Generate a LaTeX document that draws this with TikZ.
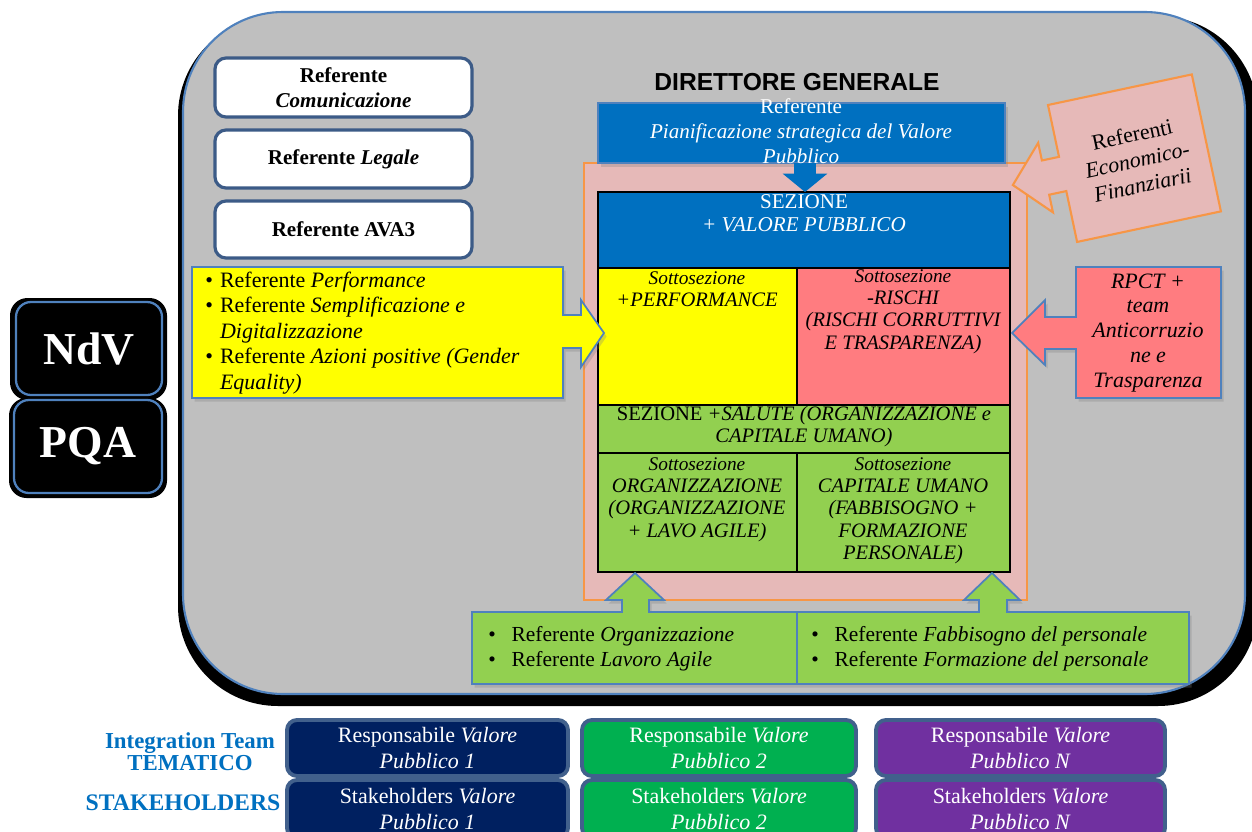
\documentclass[tikz,border=0pt]{standalone}
\usepackage{fontspec}
\setmainfont{Liberation Serif}
\setsansfont{Liberation Sans}
\usetikzlibrary{fit,shadows,arrows.meta}
\newcommand{\myfs}[2]{\fontsize{#1}{#2}\selectfont}
\definecolor{graybg}{HTML}{BFBFBF}
\definecolor{edgeblue}{HTML}{4F81BD}
\definecolor{pinkbg}{HTML}{E6B9B8}
\definecolor{orangeb}{HTML}{F79646}
\definecolor{blueA}{HTML}{0070C0}
\definecolor{yellowc}{HTML}{FFFF00}
\definecolor{redc}{HTML}{FF7C80}
\definecolor{greenc}{HTML}{92D050}
\definecolor{wbord}{HTML}{3C5B87}
\definecolor{navyc}{HTML}{002060}
\definecolor{greenb}{HTML}{00B050}
\definecolor{purplec}{HTML}{7030A0}
\definecolor{botbord}{HTML}{41608C}
\definecolor{labblue}{HTML}{0070C0}
\begin{document}
\begin{tikzpicture}[x=0.02cm,y=-0.02cm,
  box/.style={inner sep=0pt, outer sep=0pt},
  wbox/.style={box, draw=wbord, line width=1.8pt, fill=white, rounded corners=0.22cm},
  wtext/.style={align=center, inner sep=0pt, font=\myfs{12}{14.2}\bfseries},
  cell/.style={box, draw=black, line width=1.2pt},
  celltext/.style={align=center, inner sep=0pt, font=\myfs{11.7}{12.7}\itshape},
  arrowshape/.style={draw=edgeblue, line width=1pt},
  shad/.style={drop shadow={shadow xshift=1.5pt, shadow yshift=-2pt, opacity=0.3}},
  botbox/.style={box, draw=botbord, line width=2.2pt, rounded corners=0.2cm},
  bottext/.style={align=center, inner sep=0pt, text=white, font=\myfs{12.5}{14.8}},
  blackbox/.style={box, fill=black, draw=edgeblue, line width=1.3pt, rounded corners=0.3cm},
  blacktext/.style={inner sep=0pt, text=white, font=\myfs{26}{30}\bfseries},
  lab/.style={text=labblue, align=center, inner sep=0pt},
  bullets/.style={inner sep=0pt, anchor=west, font=\myfs{12.2}{14.6}}
]
\useasboundingbox (0,0) rectangle (1252,832);

% main panel with black shadow
\fill[black, rounded corners=2cm] (178,16) rectangle (1258,706);
\node[box, fill=graybg, draw=edgeblue, line width=1.2pt, rounded corners=2cm, fit={(183,12)(1245,694)}] (panel) {};

% white referent boxes
\node[wbox, fit={(215,58)(472,117)}] (com) {};
\node[wtext] (comt) at (com.center) {Referente\\\textit{Comunicazione}};
\node[wbox, fit={(215,130)(472,188)}] (leg) {};
\node[wtext] (legt) at (leg.center) {Referente \textit{Legale}};
\node[wbox, fit={(215,201)(472,258)}] (ava) {};
\node[wtext] (avat) at (ava.center) {Referente AVA3};

% title
\node[font=\sffamily\myfs{14}{16}\bfseries] (dg) at (797,82) {DIRETTORE GENERALE};

% pink container
\node[box, fill=pinkbg, draw=orangeb, line width=1.3pt, fit={(584,163)(1027,600)}] (pink) {};

% blue top box
\node[box, fill=blueA, draw=edgeblue, line width=0.8pt, shad, fit={(598,103)(1005,163)}] (pian) {};

% sections
\node[cell, fill=blueA, fit={(598,192)(1010,268)}] (sez) {};
\node[cell, fill=yellowc, fit={(598,268)(797,405)}] (perf) {};
\node[cell, fill=redc, fit={(797,268)(1010,405)}] (risk) {};
\node[cell, fill=greenc, fit={(598,405)(1010,453)}] (sal) {};
\node[cell, fill=greenc, fit={(598,453)(797,572)}] (org) {};
\node[cell, fill=greenc, fit={(797,453)(1010,572)}] (cap) {};

% blue down arrow
\draw[blueA, line width=12.5pt, -{Triangle[length=10.5pt, width=25pt]}] ([xshift=0.07cm]pian.south) -- ([xshift=0.02cm]sez.north);

\node[text=white, align=center, font=\myfs{12}{14.2}] (piant) at (801,131) {Referente\\\textit{Pianificazione strategica del Valore}\\\textit{Pubblico}};

\node[celltext, text=white, font=\myfs{12}{13}] (sezt) at (804,213.5) {SEZIONE\\\textit{+ VALORE PUBBLICO}};
\node[celltext] (perft) at (697,289) {{\myfs{11}{12.7}Sottosezione}\\+PERFORMANCE};
\node[celltext] (riskt) at (903,311.5) {{\myfs{11}{12.7}Sottosezione}\\-RISCHI\\(RISCHI CORRUTTIVI\\E TRASPARENZA)};
\node[celltext] (salt) at (804,426.5) {\upshape SEZIONE \itshape +SALUTE (ORGANIZZAZIONE e\\CAPITALE UMANO)};
\node[celltext] (orgt) at (697,499.5) {{\myfs{11}{12.7}Sottosezione}\\ORGANIZZAZIONE\\(ORGANIZZAZIONE\\+ LAVO AGILE)};
\node[celltext] (capt) at (903,510.5) {{\myfs{11}{12.7}Sottosezione}\\CAPITALE UMANO\\(FABBISOGNO +\\FORMAZIONE\\PERSONALE)};

% yellow callout
\node[box, fit={(192,267)(563,398)}] (yb) {};
\path[arrowshape, fill=yellowc, shad] (yb.north west) -- (yb.north east) -- (563,315) -- (581,315) -- (581,300) -- (604,333) -- (581,367) -- (581,348) -- (563,348) -- (yb.south east) -- (yb.south west) -- cycle;
\node[bullets, font=\myfs{12.5}{14.5}] (ybt) at (205,333) {\begin{tabular}{@{}l@{\hspace{4pt}}l@{}}
\textbullet & Referente \textit{Performance}\\
\textbullet & Referente \textit{Semplificazione e}\\
 & \textit{Digitalizzazione}\\
\textbullet & Referente \textit{Azioni positive (Gender}\\
 & \textit{Equality)}
\end{tabular}};

% RPCT callout
\node[box, fit={(1076,267)(1221,398)}] (rp) {};
\path[arrowshape, fill=redc, shad] (rp.north west) -- (rp.north east) -- (rp.south east) -- (rp.south west) -- (1076,349) -- (1045,349) -- (1045,365) -- (1012,333) -- (1045,300) -- (1045,317) -- (1076,317) -- cycle;
\node[align=center, font=\myfs{12.5}{14.2}\itshape] (rpt) at (1148,333) {RPCT +\\team\\Anticorruzio\\ne e\\Trasparenza};

% Referenti Economico-Finanziarii callout (rotated)
\begin{scope}[shift={(1048,105)}, rotate=12]
\path[draw=orangeb, line width=1.2pt, fill=pinkbg] (0,0) -- (147,0) -- (147,140) -- (0,140) -- (0,88) -- (-17.5,88) -- (-17.5,106) -- (-51,71) -- (-17.5,35) -- (-17.5,53) -- (0,53) -- cycle;
\node[rotate=12, align=center, inner sep=0pt, font=\myfs{12.5}{14.6}] (reft) at (76,72) {Referenti\\\textit{Economico-}\\\textit{Finanziarii}};
\end{scope}

% green bottom callouts
\node[box, fit={(472,612)(797,684)}] (gl) {};
\node[box, fit={(797,612)(1189,684)}] (gr) {};
\path[arrowshape, fill=greenc, shad] (gl.south west) -- (gl.north west) -- (622,612) -- (622,600) -- (606,600) -- (635,573) -- (664,600) -- (649,600) -- (649,612) -- (979,612) -- (979,600) -- (964,600) -- (992,573) -- (1020,600) -- (1007,600) -- (1007,612) -- (gr.north east) -- (gr.south east) -- cycle;
\draw[edgeblue, line width=1pt] (gl.north east) -- (gl.south east);
\node[bullets] (glt) at (488,649) {\begin{tabular}{@{}l@{\hspace{9pt}}l@{}}
\textbullet & Referente \textit{Organizzazione}\\
\textbullet & Referente \textit{Lavoro Agile}
\end{tabular}};
\node[bullets] (grt) at (811,649) {\begin{tabular}{@{}l@{\hspace{9pt}}l@{}}
\textbullet & Referente \textit{Fabbisogno del personale}\\
\textbullet & Referente \textit{Formazione del personale}
\end{tabular}};

% NdV / PQA
\fill[black, rounded corners=0.35cm] (10,298) rectangle (167,400);
\fill[black, rounded corners=0.35cm] (9,398) rectangle (167,498);
\node[blackbox, fit={(16,302)(162,395)}] (ndv) {};
\node[blacktext] (ndvt) at (ndv.center) {NdV};
\node[blackbox, fit={(14,400)(162,493)}] (pqa) {};
\node[blacktext] (pqat) at (pqa.center) {PQA};

% bottom labels
\node[lab, font=\myfs{13}{11.4}\bfseries] (itl) at (190,752) {Integration Team\\TEMATICO};
\node[lab, font=\myfs{13.5}{14}\bfseries] (stl) at (183,803) {STAKEHOLDERS};

% bottom boxes
\node[botbox, fill=navyc, fit={(287,720)(568,776)}] (r1) {};
\node[bottext] (r1t) at (r1.center) {Responsabile \textit{Valore}\\\textit{Pubblico 1}};
\node[botbox, fill=greenb, fit={(582,720)(856,776)}] (r2) {};
\node[bottext] (r2t) at (r2.center) {Responsabile \textit{Valore}\\\textit{Pubblico 2}};
\node[botbox, fill=purplec, fit={(876,720)(1165,776)}] (r3) {};
\node[bottext] (r3t) at (r3.center) {Responsabile \textit{Valore}\\\textit{Pubblico N}};
\node[botbox, fill=navyc, fit={(287,780)(568,838)}] (s1) {};
\node[bottext] (s1t) at (s1.center) {Stakeholders \textit{Valore}\\\textit{Pubblico 1}};
\node[botbox, fill=greenb, fit={(582,780)(856,838)}] (s2) {};
\node[bottext] (s2t) at (s2.center) {Stakeholders \textit{Valore}\\\textit{Pubblico 2}};
\node[botbox, fill=purplec, fit={(876,780)(1165,838)}] (s3) {};
\node[bottext] (s3t) at (s3.center) {Stakeholders \textit{Valore}\\\textit{Pubblico N}};
\end{tikzpicture}
\end{document}
